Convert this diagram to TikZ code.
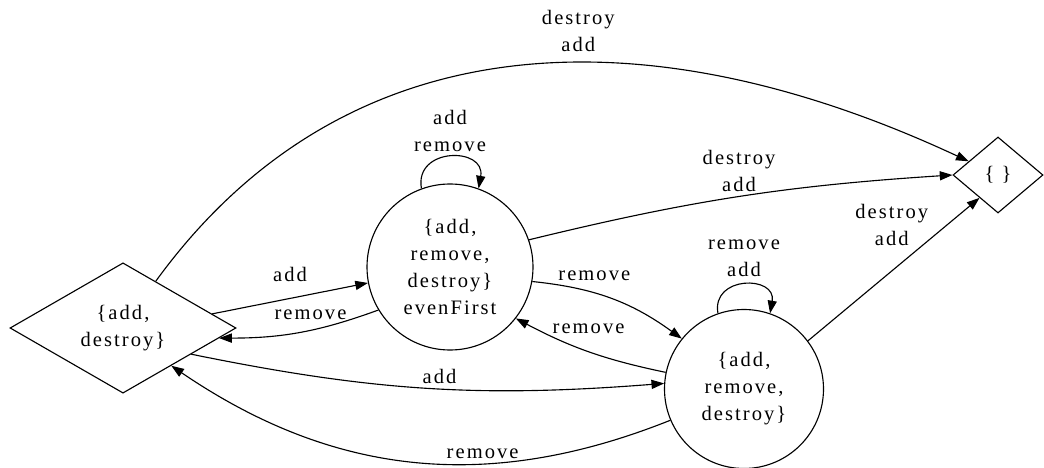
\documentclass[tikz,border=0pt]{standalone}
\usepackage{fontspec}
\setmainfont{Liberation Serif}[LetterSpace=10]
\usetikzlibrary{shapes.geometric, arrows.meta}

\begin{document}
\begin{tikzpicture}[x=.25mm, y=.25mm, line width=.8pt,
    >={Triangle[length=9pt, width=6.5pt]},
    every node/.style={font=\fontsize{14.6}{19.2}\selectfont, align=center},
    state/.style={draw, circle, inner sep=0pt},
    sink/.style={draw, diamond, inner sep=0pt}]
    \useasboundingbox (0, 0) rectangle (1044, 467);

    \node [sink, minimum width=56.5mm, minimum height=32.5mm] (ad) at (123, 139) {\{add,\\destroy\}};
    \node [state, minimum size=41.5mm] (even) at (450, 200) {\{add,\\remove,\\destroy\}\\evenFirst};
    \node [state, minimum size=39.75mm] (ard) at (744, 78) {\{add,\\remove,\\destroy\}};
    \node [sink, minimum width=22.5mm, minimum height=19mm] (none) at (998, 292) {\{ \}};

    \draw [->] (ad.55) .. controls +(54:320) and +(155:360) .. node [above, pos=.58, yshift=4pt] {destroy\\add} (none.155);
    \draw [->] (ad.9) to node [above, yshift=8pt] {add} (even.191);
    \draw [->] (even.211) to [bend left=10] node [above, pos=.43, yshift=4pt] {remove} (ad.354);
    \draw [->] (even.19) to [bend left=5] node [above] {destroy\\add} (none.west);
    \draw [->] (even.350) to [bend left=15] node [above, pos=.38, yshift=5pt] {remove} (ard.141);
    \draw [->] (ard.168) to [bend left=8] node [above, yshift=9pt] {remove} (even.322);
    \draw [->] (ad.339) to [bend right=8] node [above, pos=.53] {add} (ard.176);
    \draw [->] (ard.203) to [bend left=28] node [above, pos=.36] {remove} (ad.322);
    \draw [->] (ard.37) to node [above left, pos=.6, xshift=16pt, yshift=3pt] {destroy\\add} (none.231);

    \draw [->] (even.110) to [out=100, in=80, looseness=1.9] node [above] {add\\remove} (even.70);
    \draw [->] (ard.109) to [out=100, in=80, looseness=1.9] node [above, yshift=2pt] {remove\\add} (ard.71);
\end{tikzpicture}
\end{document}
